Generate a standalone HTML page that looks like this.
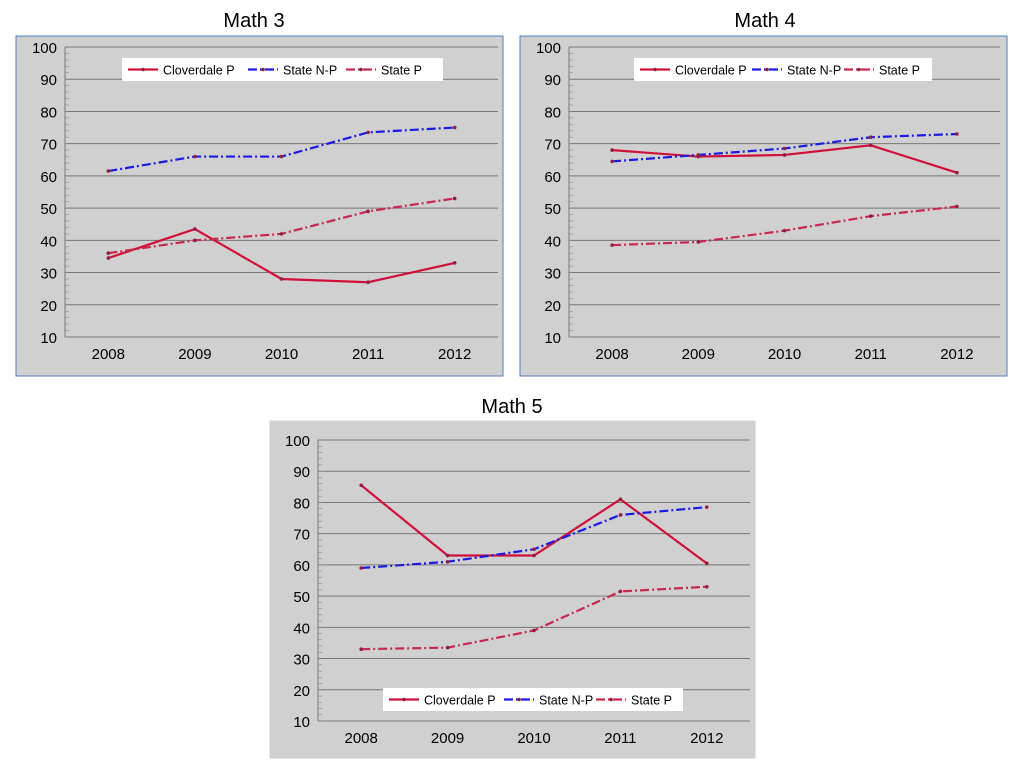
<!DOCTYPE html>
<html><head><meta charset="utf-8"><style>
body{margin:0;background:#fff;width:1024px;height:768px;overflow:hidden;font-family:"Liberation Sans",sans-serif}
svg{position:absolute;left:0;top:0}
</style></head><body>
<svg id="s" width="1024" height="768"></svg>
<script>
const years=["2008","2009","2010","2011","2012"];
const yTicks=[10,20,30,40,50,60,70,80,90,100];
const seriesNames=["Cloverdale P","State N-P","State P"];
const m3Clover=[34.5,43.5,28,27,33];
const m3NP=[61.5,66,66,73.5,75];
const m3P=[36,40,42,49,53];
const m4Clover=[68,66,66.5,69.5,61];
const m4NP=[64.5,66.5,68.5,72,73];
const m4P=[38.5,39.5,43,47.5,50.5];
const m5Clover=[85.5,63,63,81,60.5];
const m5NP=[59,61,65,76,78.5];
const m5P=[33,33.5,39,51.5,53];

const NS="http://www.w3.org/2000/svg";
const svg=document.getElementById('s');
function el(t,a,p){const e=document.createElementNS(NS,t);for(const k in a)e.setAttribute(k,a[k]);(p||svg).appendChild(e);return e;}
const styles=[{c:"#d0103a",d:"",w:2.2},{c:"#1a1ae0",d:"9,3,2,3",w:2.2},{c:"#c8284a",d:"9,3,2,3",w:2.2}];

function chart(cfg){
  const g=el('g',{});
  
  
  const t=el('text',{x:cfg.tx,y:cfg.ty,'text-anchor':'middle','font-size':20,fill:'#000'},g);
  t.textContent=cfg.title;
  
  el('rect',{x:cfg.bx,y:cfg.by,width:cfg.bw,height:cfg.bh,fill:'#d0d0d0',stroke:cfg.border,'stroke-width':1},g);
  const L=cfg.pl,R=cfg.pr,T=cfg.pt,B=cfg.pb;
  const ys=v=>B-(v-10)/90*(B-T);
  const xs=i=>L+(i+0.5)*(R-L)/years.length;
  yTicks.forEach(v=>{
    el('line',{x1:L,x2:R,y1:ys(v),y2:ys(v),stroke:'#777','stroke-width':1},g);
    const tx=el('text',{x:L-8,y:ys(v)+6,'text-anchor':'end','font-size':15},g);tx.textContent=v;
    
  });
  for(let v=10;v<100;v+=2) el('line',{x1:L,x2:L+4,y1:ys(v),y2:ys(v),stroke:'#888','stroke-width':0.6},g);
  el('line',{x1:L,x2:L,y1:T,y2:B,stroke:'#777'},g);
  years.forEach((y,i)=>{
    const tx=el('text',{x:xs(i),y:B+22,'text-anchor':'middle','font-size':15},g);tx.textContent=y;
    
  });
  cfg.data.forEach((d,si)=>{
    const st=styles[si];
    const p=el('polyline',{points:d.map((v,i)=>xs(i)+','+ys(v)).join(' '),fill:'none',stroke:st.c,'stroke-width':st.w,'stroke-dasharray':st.d},g);
    
    
    d.forEach((v,i)=>el('circle',{cx:xs(i),cy:ys(v),r:1.8,fill:'#902040'},g));
  });
  const lg=el('g',{},g);
  
  el('rect',{x:cfg.lx,y:cfg.ly,width:cfg.lw,height:23,fill:'#fff'},lg);
  const offs=cfg.lo;
  seriesNames.forEach((n,si)=>{
    const x=cfg.lx+offs[si],yc=cfg.ly+11.5,st=styles[si];
    el('line',{x1:x,x2:x+30,y1:yc,y2:yc,stroke:st.c,'stroke-width':2.2,'stroke-dasharray':st.d},lg);
    el('circle',{cx:x+15,cy:yc,r:1.8,fill:'#902040'},lg);
    const tx=el('text',{x:x+35,y:yc+5,'font-size':12.5},lg);tx.textContent=n;
    
  });
}
chart({name:'math-3-chart',title:'Math 3',tx:254,ty:27,bx:16,by:36,bw:487,bh:340,border:'#4a7fc0',pl:65,pr:498,pt:47,pb:337,data:[m3Clover,m3NP,m3P],lx:122,ly:58,lw:321,lo:[6,126,224]});
chart({name:'math-4-chart',title:'Math 4',tx:765,ty:27,bx:520,by:36,bw:487,bh:340,border:'#4a7fc0',pl:569,pr:1000,pt:47,pb:337,data:[m4Clover,m4NP,m4P],lx:634,ly:58,lw:298,lo:[6,118,210]});
chart({name:'math-5-chart',title:'Math 5',tx:512,ty:413,bx:270,by:421,bw:485,bh:337,border:'#d0d0d0',pl:318,pr:750,pt:440,pb:721,data:[m5Clover,m5NP,m5P],lx:383,ly:688,lw:300,lo:[6,121,213]});
</script>
</body></html>
